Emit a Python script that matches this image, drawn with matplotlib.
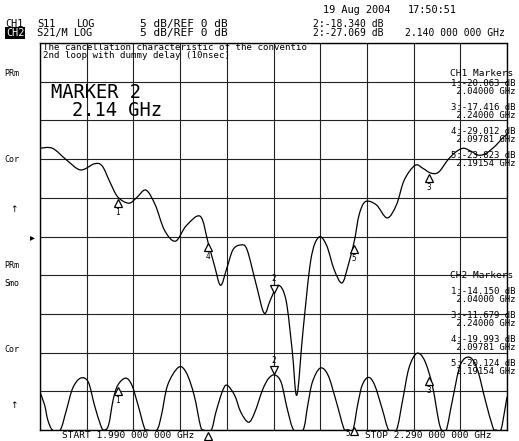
import matplotlib
matplotlib.use("Agg")
import matplotlib.pyplot as plt
import matplotlib.transforms as mtransforms
from matplotlib.path import Path
from matplotlib.patches import PathPatch
import numpy as np

W, H = 519, 441

# CH1 (S11) trace: frequency in GHz, level in dB
ch1_freq = [1.990, 1.998, 2.007, 2.016, 2.025, 2.030, 2.035, 2.040, 2.047, 2.052,
            2.058, 2.064, 2.070, 2.077, 2.084, 2.093, 2.098, 2.102, 2.106, 2.110,
            2.114, 2.119, 2.123, 2.129, 2.134, 2.138, 2.143, 2.148, 2.152, 2.155,
            2.159, 2.164, 2.169, 2.174, 2.179, 2.184, 2.188, 2.192, 2.195, 2.199,
            2.206, 2.213, 2.219, 2.224, 2.231, 2.236, 2.241, 2.246, 2.252, 2.257,
            2.262, 2.267, 2.272, 2.277, 2.283, 2.287, 2.290]
ch1_db = [-13.6, -13.6, -15.1, -16.4, -15.6, -15.9, -18.0, -19.9, -20.7, -20.0,
          -19.0, -20.9, -24.2, -25.6, -23.6, -22.4, -25.8, -28.7, -31.3, -29.1,
          -26.7, -26.1, -26.7, -31.3, -34.9, -33.2, -31.3, -33.2, -39.7, -45.5,
          -37.1, -28.0, -25.1, -26.1, -29.3, -31.0, -28.7, -25.5, -22.2, -20.5,
          -20.9, -22.6, -20.9, -17.7, -15.8, -16.2, -16.8, -16.7, -15.1, -14.1,
          -13.6, -14.0, -14.5, -14.2, -13.2, -12.3, -11.8]

# CH2 (S21/M) trace
ch2_freq = [1.990, 1.993, 1.995, 1.998, 2.003, 2.007, 2.011, 2.016, 2.021, 2.025,
            2.029, 2.031, 2.034, 2.037, 2.040, 2.045, 2.049, 2.053, 2.057, 2.059,
            2.065, 2.068, 2.072, 2.079, 2.084, 2.089, 2.093, 2.095, 2.100, 2.103,
            2.107, 2.110, 2.115, 2.119, 2.124, 2.128, 2.133, 2.137, 2.141, 2.145,
            2.149, 2.153, 2.159, 2.162, 2.165, 2.170, 2.175, 2.180, 2.185, 2.187,
            2.191, 2.194, 2.197, 2.201, 2.205, 2.210, 2.214, 2.219, 2.223, 2.227,
            2.232, 2.237, 2.242, 2.246, 2.248, 2.251, 2.255, 2.260, 2.266, 2.271,
            2.276, 2.281, 2.283, 2.286, 2.288, 2.290]
ch2_db = [-45.1, -46.8, -48.7, -50.0, -50.0, -47.4, -44.6, -43.3, -43.8, -46.8,
          -49.4, -50.0, -49.4, -46.1, -44.2, -43.3, -44.2, -46.8, -49.7, -50.0,
          -50.0, -48.1, -44.2, -41.9, -42.6, -45.5, -49.4, -50.0, -50.0, -47.7,
          -45.1, -44.2, -45.5, -47.7, -49.0, -47.7, -44.8, -43.3, -42.9, -43.9,
          -47.4, -50.0, -50.0, -46.8, -43.8, -42.0, -42.9, -46.1, -49.7, -50.0,
          -50.0, -46.8, -44.2, -43.2, -44.2, -47.4, -50.0, -50.0, -46.1, -42.0,
          -40.1, -41.0, -44.2, -48.7, -50.0, -50.0, -46.1, -41.6, -40.6, -42.2,
          -46.1, -49.7, -50.0, -50.0, -48.1, -45.7]

marker_ids = [1, 2, 3, 4, 5]
marker_freq = [2.04, 2.14, 2.24, 2.09781, 2.19154]
active_marker = 2

ch1_marker_lines = ["1:-20.063 dB", " 2.04000 GHz", "3:-17.416 dB", " 2.24000 GHz",
                    "4:-29.012 dB", " 2.09781 GHz", "5:-23.823 dB", " 2.19154 GHz"]
ch2_marker_lines = ["1:-14.150 dB", " 2.04000 GHz", "3:-11.679 dB", " 2.24000 GHz",
                    "4:-19.993 dB", " 2.09781 GHz", "5:-20.124 dB", " 2.19154 GHz"]

MONO = "DejaVu Sans Mono"


def px(x, y):
    return x / W, 1 - y / H


def ftext(x, y, s, size=6.8, **kw):
    kw.setdefault("family", MONO)
    kw.setdefault("va", "center")
    kw.setdefault("color", "black")
    return fig.text(*px(x, y), s, fontsize=size, **kw)


def smooth_trace(freq, db):
    # draw the trace as a Catmull-Rom style bezier through the read points
    p = np.column_stack([freq, db])
    p = np.vstack([p[0], p, p[-1]])
    verts = [tuple(p[1])]
    codes = [Path.MOVETO]
    for i in range(1, len(p) - 2):
        c1 = p[i] + (p[i + 1] - p[i - 1]) / 6
        c2 = p[i + 1] - (p[i + 2] - p[i]) / 6
        verts += [tuple(c1), tuple(c2), tuple(p[i + 1])]
        codes += [Path.CURVE4] * 3
    ax.add_patch(PathPatch(Path(verts, codes), fill=False, ec="black", lw=0.9,
                           zorder=4))


def draw_markers(freq, db):
    ys = np.interp(marker_freq, freq, db)
    for n, f, y in zip(marker_ids, marker_freq, ys):
        if n == active_marker:
            off = mtransforms.ScaledTranslation(0, 4 / 72, fig.dpi_scale_trans)
            ax.plot([f], [y], marker="v", ms=6, mfc="white", mec="black", mew=0.9,
                    transform=ax.transData + off, clip_on=False, zorder=5)
            ax.annotate(str(n), (f, y), xytext=(0, 11), textcoords="offset points",
                        ha="center", va="center", fontsize=5.5, family=MONO,
                        annotation_clip=False)
            continue
        off = mtransforms.ScaledTranslation(0, -4 / 72, fig.dpi_scale_trans)
        ax.plot([f], [y], marker="^", ms=6, mfc="white", mec="black", mew=0.9,
                transform=ax.transData + off, clip_on=False, zorder=5)
        if y <= -49.9:
            continue  # number would sit off screen
        dx, dy = (0, -11) if y > -47 else (-4, -6)
        ax.annotate(str(n), (f, y), xytext=(dx, dy), textcoords="offset points",
                    ha="center", va="center", fontsize=5.5, family=MONO,
                    annotation_clip=False)


fig = plt.figure(figsize=(W / 100, H / 100), dpi=100)
ax = fig.add_axes([40 / W, 1 - 430 / H, (507 - 40) / W, (430 - 43) / H])
ax.set_xlim(1.99, 2.29)
ax.set_ylim(-50, 0)
ax.set_xticks(np.linspace(1.99, 2.29, 11))
ax.set_yticks(np.arange(-50, 1, 5))
ax.tick_params(length=0, labelbottom=False, labelleft=False)
ax.grid(True, color="#222222", lw=0.8)
for s in ax.spines.values():
    s.set_linewidth(1.0)

smooth_trace(ch1_freq, ch1_db)
smooth_trace(ch2_freq, ch2_db)
draw_markers(ch1_freq, ch1_db)
draw_markers(ch2_freq, ch2_db)

# header
ftext(323, 10, "19 Aug 2004", 7.4)
ftext(408, 10, "17:50:51", 7.4)
ftext(5, 24, "CH1", 7.4)
ftext(37, 24, "S11", 7.4)
ftext(77, 24, "LOG", 7.4)
ftext(140, 24, "5 dB/REF 0 dB", 8)
ftext(6, 33, "CH2", 7.4, color="white",
      bbox=dict(facecolor="black", edgecolor="none", pad=0.5))
ftext(37, 33, "S21/M LOG", 7.4)
ftext(140, 33, "5 dB/REF 0 dB", 8)
ftext(313, 24, "2:-18.340 dB", 7)
ftext(313, 33, "2:-27.069 dB", 7)
ftext(405, 33, "2.140 000 000 GHz", 7)

# title inside the graticule
ftext(43, 48, "The cancellation characteristic of the conventio", 6.6)
ftext(43, 56, "2nd loop with dummy delay (10nsec)", 6.6)

ftext(51, 93, "MARKER 2", 13.5)
ftext(72, 110, "2.14 GHz", 13.5)

# left side labels
ftext(4, 73, "PRm", 6)
ftext(4, 159, "Cor", 6)
ftext(10, 210, "↑", 6.5, family="DejaVu Sans")
ftext(30, 237, "▸", 7, family="DejaVu Sans")
ftext(4, 265, "PRm", 6)
ftext(4, 283, "Smo", 6)
ftext(4, 350, "Cor", 6)
ftext(10, 405, "↑", 6.5, family="DejaVu Sans")

# marker tables on the right
ftext(450, 73, "CH1 Markers", 6.8)
for i, s in enumerate(ch1_marker_lines):
    ftext(451, [83, 92, 107, 115, 131, 139, 155, 163][i], s, 6.5)
ftext(450, 276, "CH2 Markers", 6.8)
for i, s in enumerate(ch2_marker_lines):
    ftext(451, [292, 300, 316, 324, 339, 347, 363, 371][i], s, 6.5)

# start / stop
ftext(62, 435, "START 1.990 000 000 GHz", 6.8)
ftext(365, 435, "STOP 2.290 000 000 GHz", 6.8)

fig.savefig("out.png", dpi=100)
